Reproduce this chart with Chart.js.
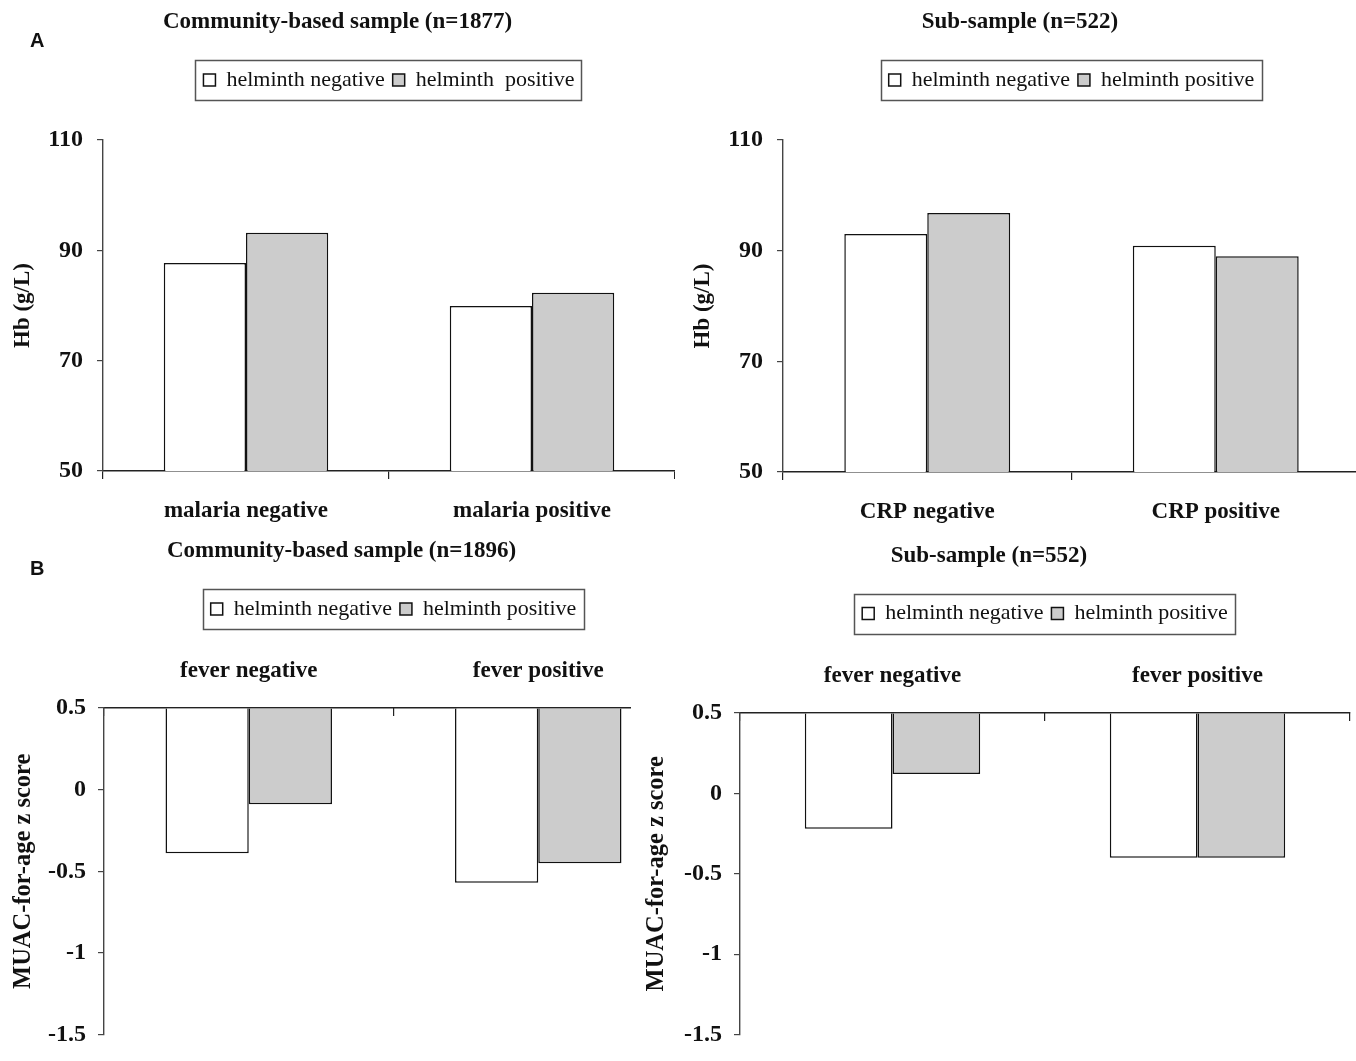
<!DOCTYPE html>
<html><head><meta charset="utf-8">
<script src="https://cdn.jsdelivr.net/npm/chart.js@4.4.1/dist/chart.umd.min.js"></script>
<style>
html,body{margin:0;padding:0;background:#fff;width:1356px;height:1061px;overflow:hidden;position:relative;}
.panel{position:absolute;overflow:hidden;}
.letter{position:absolute;font-family:"Liberation Sans",Arial,sans-serif;font-weight:bold;font-size:20px;line-height:23px;color:#111;}
</style></head><body>
<div class="panel" id="pTL" style="left:0;top:0;width:675px;height:530px"><canvas id="cTL" width="675" height="530"></canvas></div>
<div class="panel" id="pTR" style="left:680px;top:0;width:676px;height:530px"><canvas id="cTR" width="680" height="530"></canvas></div>
<div class="panel" id="pBL" style="left:0;top:530px;width:631px;height:531px"><canvas id="cBL" width="683" height="531"></canvas></div>
<div class="panel" id="pBR" style="left:628px;top:530px;width:728px;height:531px"><canvas id="cBR" width="728" height="531"></canvas></div>
<div class="letter" style="left:30px;top:29px">A</div>
<div class="letter" style="left:30px;top:557px">B</div>
<script>
// ---- data ----
const hbCategoriesCommunity = ['malaria negative', 'malaria positive'];
const hbNegCommunity = [87.7, 79.9];
const hbPosCommunity = [93.2, 82.3];

const hbCategoriesSub = ['CRP negative', 'CRP positive'];
const hbNegSub = [93.0, 90.9];
const hbPosSub = [96.8, 89.0];

const muacCategories = ['fever negative', 'fever positive'];
const muacNegCommunity = [-0.39, -0.57];
const muacPosCommunity = [-0.09, -0.45];
const muacNegSub = [-0.22, -0.40];
const muacPosSub = [0.12, -0.40];

const hbTicks = {min: 50, max: 110, step: 20};
const muacTicks = {min: -1.5, max: 0.5, step: 0.5};
const muacBase = 0.5;

// ---- styling ----
const SERIF = '"Liberation Serif","Times New Roman",serif';
const INK = '#111';

const legendBox = {
  id: 'legendBox',
  afterDraw(chart) {
    const lg = chart.legend;
    if (!lg || !lg.legendHitBoxes || !lg.legendHitBoxes.length) return;
    const hb = lg.legendHitBoxes;
    let l = Infinity, r = -Infinity, t = Infinity, b = -Infinity;
    hb.forEach(h => { l = Math.min(l, h.left); r = Math.max(r, h.left + h.width); t = Math.min(t, h.top); b = Math.max(b, h.top + h.height); });
    const ctx = chart.ctx;
    ctx.save();
    ctx.strokeStyle = '#555';
    ctx.lineWidth = 1.5;
    ctx.strokeRect(Math.round(l - 8) + 0.5, Math.round(t - 9) + 0.5, Math.round(r - l + 15), Math.round(b - t + 18));
    ctx.restore();
  }
};

function makePanel(id, c) {
  return new Chart(document.getElementById(id), {
    type: 'bar',
    data: {
      labels: c.labels,
      datasets: [
        {label: c.names[0], data: c.neg, backgroundColor: '#ffffff', borderColor: INK, borderWidth: 1.5,
         base: c.base, categoryPercentage: 0.575, barPercentage: 1},
        {label: c.names[1], data: c.pos, backgroundColor: '#cccccc', borderColor: INK, borderWidth: 1.5,
         base: c.base, categoryPercentage: 0.575, barPercentage: 1}
      ]
    },
    options: {
      responsive: false, animation: false, devicePixelRatio: 1,
      layout: {padding: {top: c.padTop, right: c.padRight, bottom: c.padBottom, left: 0}},
      plugins: {
        title: {display: true, text: c.title, color: INK,
                font: {family: SERIF, size: 23, weight: 'bold', lineHeight: 1.2},
                padding: {top: 2, bottom: c.titlePadBottom}},
        subtitle: {display: c.spacer > 0, text: '', weight: 500, fullSize: false,
                   font: {size: 1, lineHeight: 1}, padding: {top: 0, bottom: Math.max(c.spacer - 1, 0)}},
        legend: {display: true, position: 'top', fullSize: false,
                 labels: {font: {family: SERIF, size: 22}, color: INK, boxWidth: 12, boxHeight: 12, padding: 8}},
        tooltip: {enabled: false}
      },
      scales: {
        x: {
          position: c.xPos,
          grid: {display: true, drawOnChartArea: false, drawTicks: true, tickLength: c.xTick, color: '#222', lineWidth: 1.2, offset: true},
          border: {display: true, color: '#222', width: 1.4},
          ticks: {font: {family: SERIF, size: 23, weight: 'bold', lineHeight: 1.2}, color: INK, padding: c.xPad, maxRotation: 0, autoSkip: false},
          afterFit: s => { s.height = c.xHeight; }
        },
        y: {
          min: c.ticks.min, max: c.ticks.max,
          grid: {display: true, drawOnChartArea: false, drawTicks: true, tickLength: 6, color: '#444', lineWidth: 1.2},
          border: {display: true, color: '#444', width: 1.4},
          ticks: {stepSize: c.ticks.step, font: {family: SERIF, size: 24, weight: 'bold'}, color: INK, padding: c.yPad,
                  callback: v => String(Number(Number(v).toFixed(2)))},
          title: {display: true, text: c.yTitle, color: INK,
                  font: {family: SERIF, size: c.yTitleSize, weight: 'bold', lineHeight: 1.2}, padding: {top: c.yTitlePad, bottom: 0}},
          afterFit: s => { s.width = c.yWidth; }
        }
      }
    },
    plugins: [legendBox]
  });
}

makePanel('cTL', {
  labels: hbCategoriesCommunity, neg: hbNegCommunity, pos: hbPosCommunity,
  names: ['helminth negative', 'helminth  positive'], base: undefined,
  title: 'Community-based sample (n=1877)', yTitle: 'Hb (g/L)', ticks: hbTicks,
  padTop: 6, padRight: 0, padBottom: 0, titlePadBottom: 25.4, spacer: 39,
  xPos: 'bottom', xTick: 8, xPad: 18, xHeight: 59, yWidth: 103, yTitlePad: 9, yTitleSize: 23, yPad: 14
});
makePanel('cTR', {
  labels: hbCategoriesSub, neg: hbNegSub, pos: hbPosSub,
  names: ['helminth negative', 'helminth positive'], base: undefined,
  title: 'Sub-sample (n=522)', yTitle: 'Hb (g/L)', ticks: hbTicks,
  padTop: 6, padRight: 0, padBottom: 0, titlePadBottom: 25.4, spacer: 39,
  xPos: 'bottom', xTick: 8, xPad: 18, xHeight: 58, yWidth: 103, yTitlePad: 9, yTitleSize: 23, yPad: 14
});
makePanel('cBL', {
  labels: muacCategories, neg: muacNegCommunity, pos: muacPosCommunity,
  names: ['helminth negative', 'helminth positive'], base: muacBase,
  title: 'Community-based sample (n=1896)', yTitle: 'MUAC-for-age z score', ticks: muacTicks,
  padTop: 5, padRight: 0, padBottom: 18, titlePadBottom: 25.4, spacer: 0,
  xPos: 'top', xTick: -8, xPad: 31.2, xHeight: 78, yWidth: 104, yTitlePad: 9, yTitleSize: 24.5, yPad: 12
});
makePanel('cBR', {
  labels: muacCategories, neg: muacNegSub, pos: muacPosSub,
  names: ['helminth negative', 'helminth positive'], base: muacBase,
  title: 'Sub-sample (n=552)', yTitle: 'MUAC-for-age z score', ticks: muacTicks,
  padTop: 10, padRight: 6, padBottom: 13, titlePadBottom: 24.9, spacer: 0,
  xPos: 'top', xTick: -8, xPad: 31.2, xHeight: 78.5, yWidth: 112, yTitlePad: 14, yTitleSize: 24.5, yPad: 12
});
</script>
</body></html>
